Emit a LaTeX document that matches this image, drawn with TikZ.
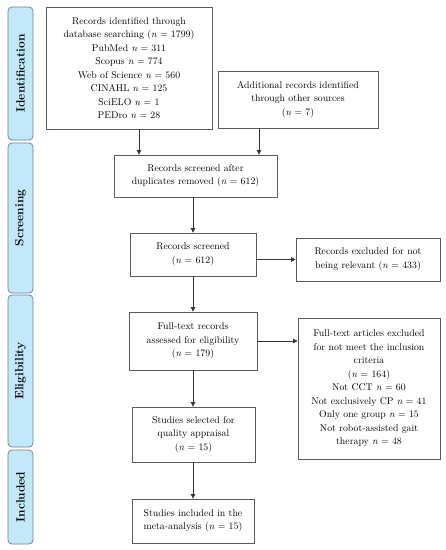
\documentclass[tikz,border=0pt]{standalone}
\usetikzlibrary{arrows.meta}
\definecolor{barfill}{HTML}{C2E8FA}
\definecolor{bardraw}{HTML}{6A8492}
\definecolor{boxdraw}{HTML}{5A5A5A}
\definecolor{arrcol}{HTML}{333333}
\begin{document}
\begin{tikzpicture}[x=1pt,y=-1pt,
  box/.style={draw=boxdraw,line width=0.8pt,align=center,inner sep=2pt,
    font=\fontsize{9.8}{13.5}\selectfont},
  bar/.style={draw=bardraw,fill=barfill,line width=0.8pt,rounded corners=4pt},
  barlabel/.style={rotate=90,font=\fontsize{12}{14}\selectfont\bfseries},
  arr/.style={draw=arrcol,line width=0.7pt,-{Triangle[length=4.5pt,width=4.5pt]}}]
\useasboundingbox (0,0) rectangle (446,550);
% side bars
\draw[bar] (8,7) rectangle (33,140);
\draw[bar] (8,143) rectangle (33,293);
\draw[bar] (8,295) rectangle (33,447);
\draw[bar] (8,450) rectangle (33,544);
\node[barlabel] (lid) at (20.5,73.5) {Identification};
\node[barlabel] (lsc) at (20.5,218) {Screening};
\node[barlabel] (lel) at (20.5,371) {Eligibility};
\node[barlabel] (lin) at (20.5,497) {Included};
% boxes
\node[box,minimum width=166pt,minimum height=122pt] (b1) at (129,68)
 {Records identified through\\database searching (\textit{n} = 1799)\\PubMed \textit{n} = 311\\Scopus \textit{n} = 774\\Web of Science \textit{n} = 560\\CINAHL \textit{n} = 125\\SciELO \textit{n} = 1\\PEDro \textit{n} = 28};
\node[box,minimum width=160pt,minimum height=57pt] (b2) at (298,99.5)
 {Additional records identified\\through other sources\\(\textit{n} = 7)};
\node[box,minimum width=163pt,minimum height=42pt] (b3) at (195.5,176)
 {Records screened after\\duplicates removed (\textit{n} = 612)};
\node[box,minimum width=126pt,minimum height=43pt] (b4) at (193,254.5)
 {Records screened\\(\textit{n} = 612)};
\node[box,minimum width=144pt,minimum height=43pt] (b5) at (368,259.5)
 {Records excluded for not\\being relevant (\textit{n} = 433)};
\node[box,minimum width=128pt,minimum height=58pt] (b6) at (193,341)
 {Full-text records\\assessed for eligibility\\(\textit{n} = 179)};
\node[box,minimum width=142pt,minimum height=141pt] (b7) at (369,388.5)
 {Full-text articles excluded\\for not meet the inclusion\\criteria\\(\textit{n} = 164)\\Not CCT \textit{n} = 60\\Not exclusively CP \textit{n} = 41\\Only one group \textit{n} = 15\\Not robot-assisted gait\\therapy \textit{n} = 48};
\node[box,minimum width=123pt,minimum height=55pt] (b8) at (193.5,434.5)
 {Studies selected for\\quality appraisal\\(\textit{n} = 15)};
\node[box,minimum width=122pt,minimum height=44pt] (b9) at (193,521)
 {Studies included in the\\meta-analysis (\textit{n} = 15)};
% connectors
\coordinate (x1) at (139,0);
\coordinate (x2) at (259,0);
\coordinate (xm) at (193,0);
\draw[arr] (b1.south -| x1) -- (b3.north -| x1);
\draw[arr] (b2.south -| x2) -- (b3.north -| x2);
\draw[arr] (b3.south -| xm) -- (b4.north -| xm);
\draw[arr] (b5.west -| b4.east) -- (b5.west);
\draw[arr] (b4.south -| xm) -- (b6.north -| xm);
\draw[arr] (b6.east) -- (b6.east -| b7.west);
\draw[arr] (b6.south -| xm) -- (b8.north -| xm);
\draw[arr] (b8.south -| xm) -- (b9.north -| xm);
\end{tikzpicture}
\end{document}
